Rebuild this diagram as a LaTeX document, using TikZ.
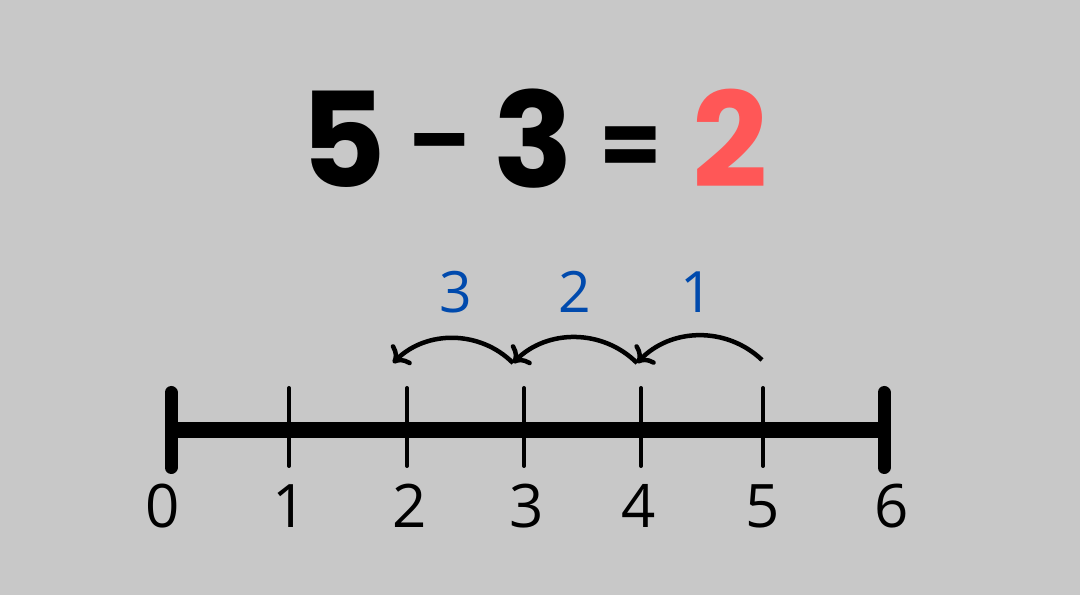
\documentclass[tikz,border=0pt]{standalone}
\usepackage{xcolor}
\usepackage{fontspec}
\usepackage{tikz}
\usetikzlibrary{arrows.meta,positioning,calc}
\newfontfamily\titlefont{Poppins}
\newfontfamily\numfont{Open Sans}
\definecolor{bggray}{HTML}{C8C8C8}
\definecolor{answerred}{HTML}{FF5757}
\definecolor{stepblue}{HTML}{004AAD}
\tikzset{
     tickmark/.style={line width=4pt, line cap=round},
     endmark/.style={line width=13pt, line cap=round},
     hop/.style={line width=4.5pt, -{Computer Modern Rightarrow[length=14pt,width=28pt]}}
     }

\begin{document}
\begin{tikzpicture}[x=1pt,y=1pt]
\tikzstyle{eq} = [inner sep=0pt, anchor=base,
font=\titlefont\bfseries\fontsize{132}{132}\selectfont]
\tikzstyle{op} = [inner sep=0pt, anchor=center,
font=\titlefont\bfseries\fontsize{90}{90}\selectfont]
\tikzstyle{num} = [inner sep=0pt, anchor=base,
font=\numfont\fontsize{60}{60}\selectfont]
\tikzstyle{count} = [inner sep=0pt, anchor=base, text=stepblue,
font=\numfont\fontsize{57}{57}\selectfont]

\fill[bggray] (0,0) rectangle (1080,595);

% the sum
\node [eq] (A) at (343,407) {5};
\node [op] (M) at (440,442) {–};
\node [eq] (B) at (533,407) {3};
\node [op] (Q) at (631,443) {=};
\node [eq, text=answerred] (R) at (730,407) {2};

% number line
\coordinate (T0) at (171,165);
\coordinate (T6) at (884,165);
\draw[line width=16pt] (T0) -- (T6);
\draw[endmark] ($(T0)+(0,37.5)$) -- ($(T0)-(0,37.5)$);
\draw[endmark] ($(T6)+(0,37.5)$) -- ($(T6)-(0,37.5)$);
\foreach \x/\n in {289/1,407/2,524/3,641/4,763/5}
  \draw[tickmark] (\x,207) -- (\x,129);

\node [num] (N0) at (163,67) {0};
\node [num] (N1) at (290,67) {1};
\node [num] (N2) at (410,67) {2};
\node [num] (N3) at (527,67) {3};
\node [num] (N4) at (639,67) {4};
\node [num] (N5) at (763,67) {5};
\node [num] (N6) at (892,67) {6};

% jumps back
\coordinate (P5) at (762,235);
\coordinate (P4) at (637,232);
\coordinate (P3) at (513,232);
\coordinate (P2) at (393,232);

\draw[hop] (P5) to[bend right=45] (P4);
\draw[hop] (P4) to[bend right=45] (P3);
\draw[hop] (P3) to[bend right=45] (P2);

\node [count] (C1) at (697,282) {1};
\node [count] (C2) at (575,282) {2};
\node [count] (C3) at (456,282) {3};
\end{tikzpicture}
\end{document}
